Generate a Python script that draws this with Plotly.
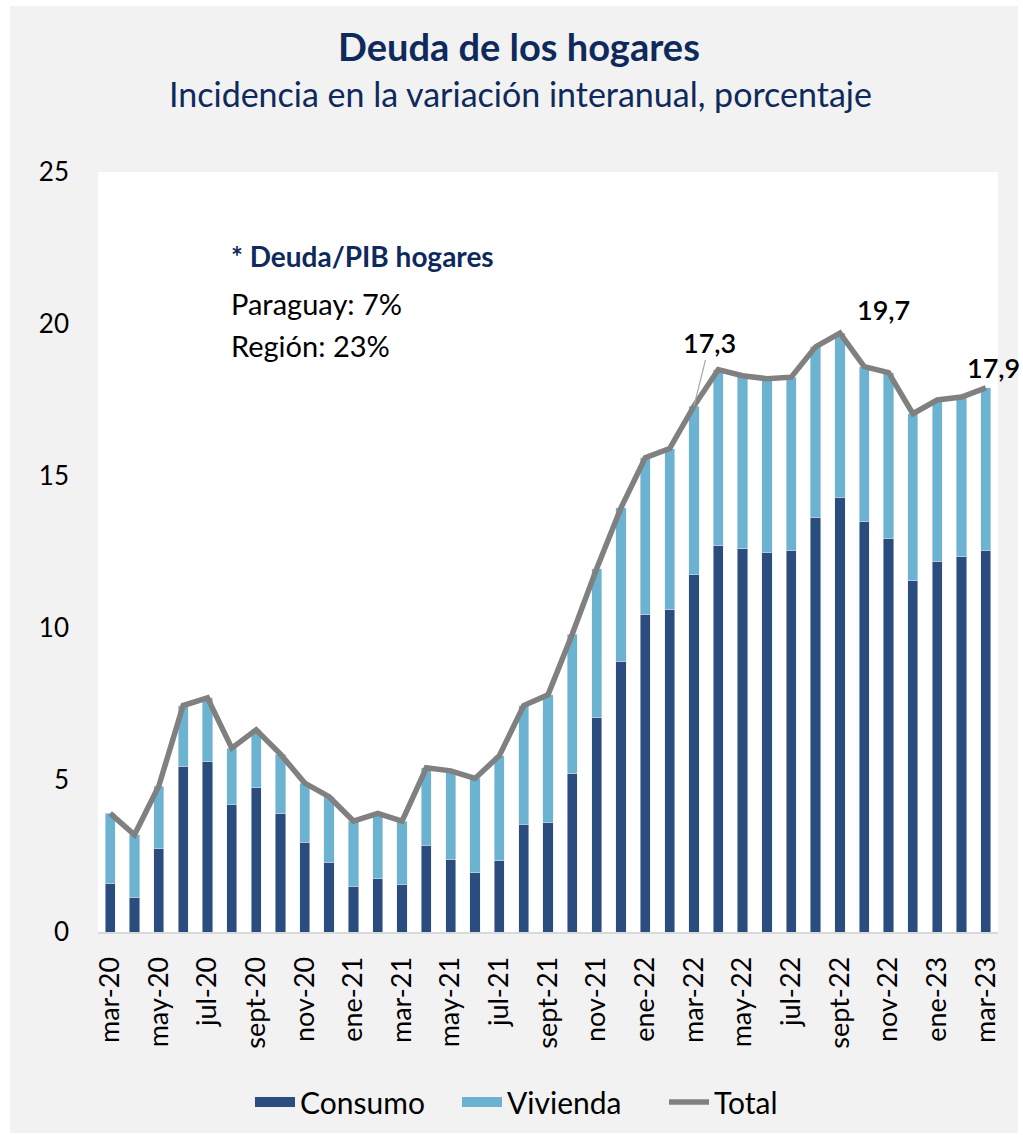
import plotly.graph_objects as go

months = ["mar-20", "abr-20", "may-20", "jun-20", "jul-20", "ago-20", "sept-20", "oct-20",
          "nov-20", "dic-20", "ene-21", "feb-21", "mar-21", "abr-21", "may-21", "jun-21",
          "jul-21", "ago-21", "sept-21", "oct-21", "nov-21", "dic-21", "ene-22", "feb-22",
          "mar-22", "abr-22", "may-22", "jun-22", "jul-22", "ago-22", "sept-22", "oct-22",
          "nov-22", "dic-22", "ene-23", "feb-23", "mar-23"]

consumo = [1.6, 1.15, 2.75, 5.45, 5.6, 4.2, 4.75, 3.9, 2.95, 2.3, 1.5, 1.75, 1.55, 2.85,
           2.4, 1.95, 2.35, 3.55, 3.6, 5.2, 7.05, 8.9, 10.45, 10.6, 11.75, 12.7, 12.6,
           12.5, 12.55, 13.65, 14.3, 13.5, 12.95, 11.55, 12.2, 12.35, 12.55]

vivienda = [2.3, 2.05, 2.05, 2.0, 2.1, 1.85, 1.9, 1.95, 1.95, 2.15, 2.15, 2.15, 2.1, 2.55,
            2.9, 3.1, 3.45, 3.9, 4.2, 4.6, 4.9, 5.05, 5.15, 5.3, 5.55, 5.8, 5.7, 5.7,
            5.7, 5.6, 5.4, 5.1, 5.45, 5.5, 5.3, 5.25, 5.35]

total = [3.9, 3.2, 4.8, 7.45, 7.7, 6.05, 6.65, 5.85, 4.9, 4.45, 3.65, 3.9, 3.65, 5.4,
         5.3, 5.05, 5.8, 7.45, 7.8, 9.8, 11.95, 13.95, 15.6, 15.9, 17.3, 18.5, 18.3,
         18.2, 18.25, 19.25, 19.7, 18.6, 18.4, 17.05, 17.5, 17.6, 17.9]

y_ticks = [0, 5, 10, 15, 20, 25]
boundary_ticks = [i - 0.5 for i in range(0, 36, 2)]

FONT = "Lato"
NAVY = "#0e2a5c"
C_CONS = "#2b4c7e"
C_VIV = "#6bb3d1"
C_TOT = "#808080"

fig = go.Figure()
fig.add_trace(go.Bar(x=months, y=consumo, name="Consumo", marker=dict(color=C_CONS),
                     legendgroup="c", showlegend=False))
fig.add_trace(go.Bar(x=months, y=vivienda, name="Vivienda", marker=dict(color=C_VIV),
                     legendgroup="v", showlegend=False))
fig.add_trace(go.Scatter(x=months, y=total, name="Total", mode="lines",
                         line=dict(color=C_TOT, width=5.5), showlegend=False, legendgroup="t"))
# legend entries (wide swatches like the reference)
fig.add_trace(go.Scatter(x=[None], y=[None], mode="lines", name="Consumo", legendgroup="c",
                         line=dict(color=C_CONS, width=20)))
fig.add_trace(go.Scatter(x=[None], y=[None], mode="lines", name="Vivienda", legendgroup="v",
                         line=dict(color=C_VIV, width=20)))
fig.add_trace(go.Scatter(x=[None], y=[None], mode="lines", name="Total", legendgroup="t",
                         line=dict(color=C_TOT, width=5.5)))

W, H = 1023, 1135
L, R, T, B = 98, 25, 172, 203
pw, ph = W - L - R, H - T - B


def px(xp):
    return (xp - L) / pw


def py(yp):
    return (H - B - yp) / ph


annotations = [
    dict(text="<b>Deuda de los hogares</b>", x=px(519), y=py(46), xref="paper", yref="paper",
         xanchor="center", yanchor="middle", showarrow=False,
         font=dict(family=FONT, size=38, color=NAVY)),
    dict(text="Incidencia en la variación interanual, porcentaje", x=px(520), y=py(93),
         xref="paper", yref="paper", xanchor="center", yanchor="middle", showarrow=False,
         font=dict(family=FONT, size=34, color=NAVY)),
    dict(text="<b>* Deuda/PIB hogares</b>", x=px(229), y=py(256), xref="paper", yref="paper",
         xanchor="left", yanchor="middle", showarrow=False,
         font=dict(family=FONT, size=28, color=NAVY)),
    dict(text="Paraguay: 7%", x=px(229), y=py(303), xref="paper", yref="paper",
         xanchor="left", yanchor="middle", showarrow=False,
         font=dict(family=FONT, size=29, color="#000000")),
    dict(text="Región: 23%", x=px(229), y=py(345), xref="paper", yref="paper",
         xanchor="left", yanchor="middle", showarrow=False,
         font=dict(family=FONT, size=29, color="#000000")),
    dict(text="17,3", x=months[24], y=total[24], xref="x", yref="y", showarrow=True,
         ax=16, ay=-64, arrowhead=0, arrowwidth=1.2, arrowcolor="#a6a6a6",
         font=dict(family=FONT, size=27, color="#000000", weight=600)),
    dict(text="19,7", x=months[30], y=total[30], xref="x", yref="y", showarrow=False,
         xshift=44, yshift=24,
         font=dict(family=FONT, size=27, color="#000000", weight=600)),
    dict(text="17,9", x=months[36], y=total[36], xref="x", yref="y", showarrow=False,
         xshift=8, yshift=20,
         font=dict(family=FONT, size=27, color="#000000", weight=600)),
]

shapes = [
    dict(type="rect", xref="paper", yref="paper", x0=px(10), x1=px(1018), y0=py(1133), y1=py(6),
         fillcolor="#f2f2f2", line=dict(width=0), layer="below"),
    dict(type="rect", xref="paper", yref="paper", x0=0, x1=1, y0=0, y1=1,
         fillcolor="#ffffff", line=dict(width=0), layer="below"),
]

fig.update_layout(
    width=W, height=H,
    margin=dict(l=L, r=R, t=T, b=B, autoexpand=False),
    paper_bgcolor="#ffffff",
    plot_bgcolor="rgba(0,0,0,0)",
    barmode="stack",
    bargap=0.58,
    font=dict(family=FONT, color="#000000"),
    showlegend=True,
    legend=dict(orientation="h", x=px(250), xanchor="left", y=py(1102), yanchor="middle",
                font=dict(family=FONT, size=30, color="#000000"), bgcolor="rgba(0,0,0,0)",
                traceorder="normal", itemwidth=40, entrywidth=152, entrywidthmode="pixels"),
    xaxis=dict(type="category", categoryorder="array", categoryarray=months,
               range=[-0.5, 36.5], tickmode="array", tickvals=months[::2],
               tickangle=-90, ticks="", showgrid=False, showline=True,
               linecolor="#d9d9d9", linewidth=2, ticklabelstandoff=12,
               tickfont=dict(family=FONT, size=27, color="#000000"), zeroline=False),
    xaxis2=dict(overlaying="x", type="linear", range=[-0.5, 36.5], side="bottom",
                tickmode="array", tickvals=boundary_ticks, ticks="outside", ticklen=9,
                tickwidth=2, tickcolor="#d9d9d9", showticklabels=False, showgrid=False,
                showline=False, zeroline=False, anchor="y"),
    yaxis=dict(range=[0, 25], tickmode="array", tickvals=y_ticks, showgrid=False,
               showline=False, zeroline=False, ticks="", ticklabelstandoff=28,
               tickfont=dict(family=FONT, size=26, color="#000000")),
    annotations=annotations,
    shapes=shapes,
)

fig.write_html("out.html", config={"displayModeBar": False},
               post_script="document.body.style.margin='0';")
